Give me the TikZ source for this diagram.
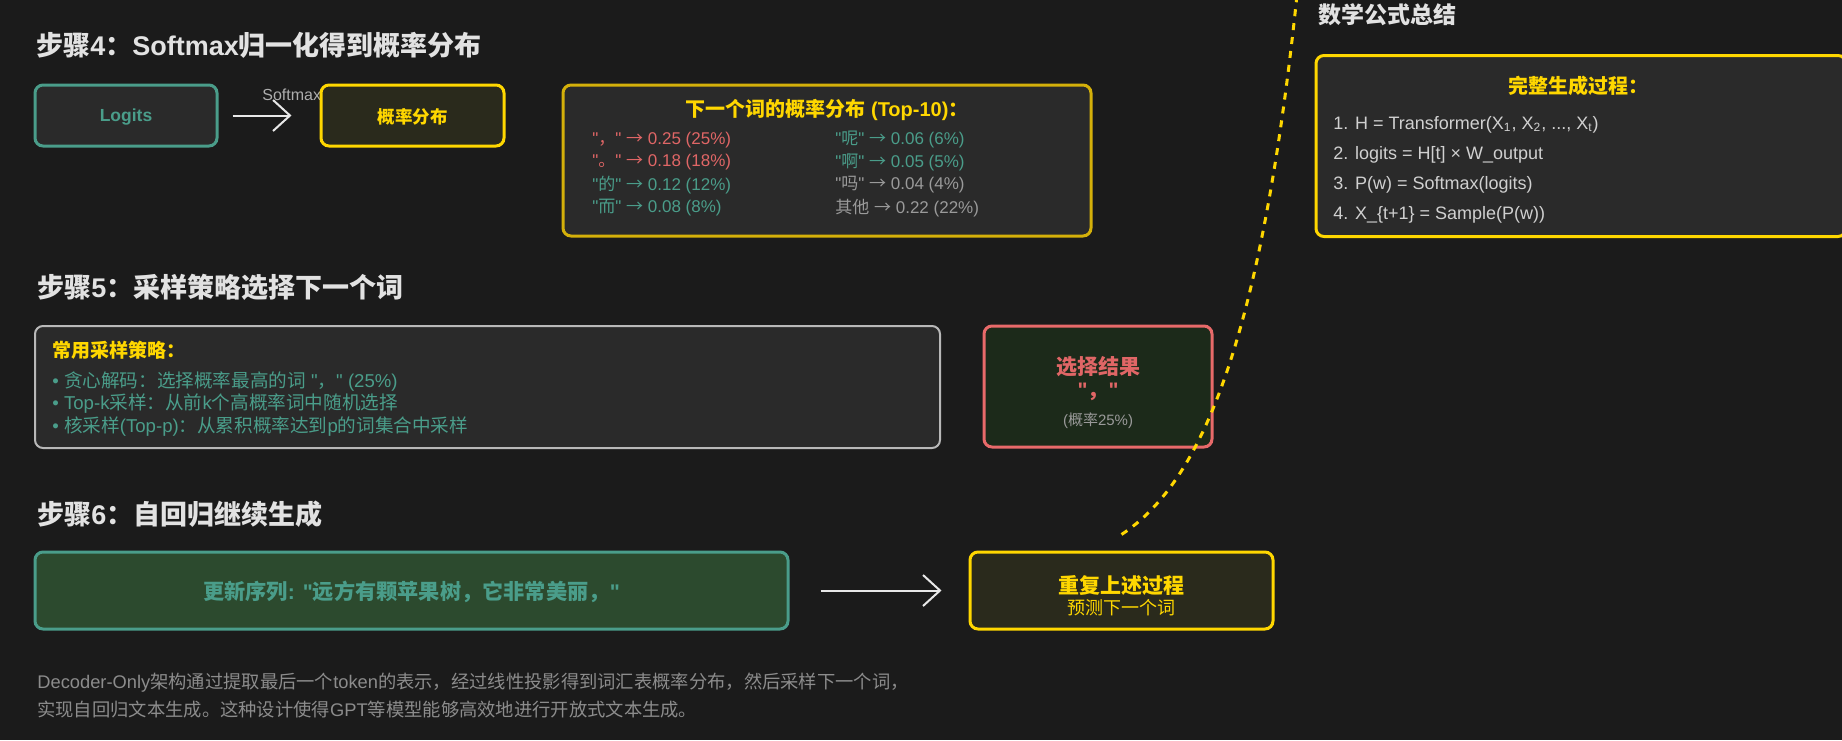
\documentclass[tikz,border=0pt]{standalone}
\usepackage{fontspec}
\setmainfont{Liberation Sans}[Ligatures=TeXOff]
\newfontfamily\cjkfont{Noto Sans CJK SC}
\usetikzlibrary{arrows.meta}

% Chinese characters (and arrows) switch to the CJK font on their own
\XeTeXinterchartokenstate=1
\newXeTeXintercharclass\cjkclass
\newcount\cjkcode
\cjkcode="2190
\loop
    \XeTeXcharclass\cjkcode=\cjkclass
    \advance\cjkcode by 1
\ifnum\cjkcode<"2200 \repeat
\cjkcode="2E80
\loop
    \XeTeXcharclass\cjkcode=\cjkclass
    \advance\cjkcode by 1
\ifnum\cjkcode<"A000 \repeat
\cjkcode="FF00
\loop
    \XeTeXcharclass\cjkcode=\cjkclass
    \advance\cjkcode by 1
\ifnum\cjkcode<"FFF0 \repeat
\XeTeXinterchartoks 0 \cjkclass = {\cjkfont}
\XeTeXinterchartoks 4095 \cjkclass = {\cjkfont}
\XeTeXinterchartoks \cjkclass 0 = {\rmfamily}
\XeTeXinterchartoks \cjkclass 4095 = {\rmfamily}

\definecolor{pagebg}{HTML}{1B1B1B}
\definecolor{boxbg}{HTML}{2A2A2A}
\definecolor{titlegray}{HTML}{E2E2E2}
\definecolor{tealc}{HTML}{4A9D8A}
\definecolor{goldc}{HTML}{FFD700}
\definecolor{dimgold}{HTML}{D4B00A}
\definecolor{redc}{HTML}{E06666}
\definecolor{redline}{HTML}{E86A6A}
\definecolor{olivebg}{HTML}{2A2A1C}
\definecolor{darkgreenbg}{HTML}{1C2A1A}
\definecolor{greenbg}{HTML}{2C4A2E}
\definecolor{softgray}{HTML}{9A9A9A}
\definecolor{lightgray}{HTML}{D0D0D0}
\definecolor{framegray}{HTML}{B8B8B8}
\definecolor{notegray}{HTML}{8C8C8C}
\definecolor{arrowwhite}{HTML}{E8E8E8}

\tikzset{
    steptitle/.style = {anchor=west, inner sep=0pt, text=titlegray,
        font=\bfseries\fontsize{13.5}{16}\selectfont},
    card/.style = {draw, rounded corners=4pt, line width=1.5pt, inner sep=0pt, text depth=0pt},
    cardtext/.style = {inner sep=0pt, text depth=0pt, font=\bfseries\fontsize{8.75}{10}\selectfont},
    rowtext/.style = {anchor=west, inner sep=0pt, font=\fontsize{8.5}{10}\selectfont},
    flowarrow/.style = {draw=arrowwhite, line width=1pt,
        -{Straight Barb[length=8.5pt, width=15.5pt, line width=1pt]}},
    loopline/.style = {draw=goldc, line width=1.5pt, dash pattern=on 3.5pt off 3.5pt},
}

\begin{document}
\begin{tikzpicture}[x=0.5pt, y=-0.5pt]

    % Page area and background
    \useasboundingbox (0,0) rectangle (1842,740);
    \clip (0,0) rectangle (1842,740);
    \fill[pagebg] (0,0) rectangle (1842,740);

    % Step 4: logits to probabilities
    \node[steptitle] (title4) at (36,45) {步骤4：Softmax归一化得到概率分布};
    \node[card, draw=tealc, fill=boxbg, minimum width=91pt, minimum height=30.5pt,
        text=tealc, font=\bfseries\fontsize{8.75}{10}\selectfont] (logits) at (126,115.5) {Logits};
    \node[anchor=base west, inner sep=0pt, text=softgray!80!white,
        font=\fontsize{8}{10}\selectfont] (smlabel) at (262,100) {Softmax};
    \node[card, draw=goldc, fill=olivebg, minimum width=91.5pt, minimum height=30.5pt,
        text=goldc, font=\bfseries\fontsize{8.75}{10}\selectfont] (probdist) at (412.5,115.5) {概率分布};
    \draw[flowarrow, shorten <=7pt, shorten >=14pt] (logits) -- (probdist);

    % Top-10 table
    \node[card, draw=dimgold, fill=boxbg, minimum width=264pt, minimum height=75.5pt] (probtable) at (827,160.5) {};
    \node[cardtext, text=goldc, font=\bfseries\fontsize{10}{12}\selectfont] (probhead) at (827,108) {下一个词的概率分布 (Top-10)：};
    \node[rowtext, text=redc] (rowa) at (592,140) {"，" → 0.25 (25\%)};
    \node[rowtext, text=redc] (rowb) at (592,162) {"。" → 0.18 (18\%)};
    \node[rowtext, text=tealc] (rowc) at (592,185) {"的" → 0.12 (12\%)};
    \node[rowtext, text=tealc] (rowd) at (592,208) {"而" → 0.08 (8\%)};
    \node[rowtext, text=tealc] (rowe) at (835,140) {"呢" → 0.06 (6\%)};
    \node[rowtext, text=tealc] (rowf) at (835,162) {"啊" → 0.05 (5\%)};
    \node[rowtext, text=softgray] (rowg) at (835,185) {"吗" → 0.04 (4\%)};
    \node[rowtext, text=softgray] (rowh) at (835,208) {其他 → 0.22 (22\%)};

    % Formula summary
    \node[steptitle, font=\bfseries\fontsize{11.5}{14}\selectfont] (mathtitle) at (1318,15) {数学公式总结};
    \node[card, draw=goldc, fill=boxbg, minimum width=265pt, minimum height=90.5pt] (formulas) at (1581,146) {};
    \node[cardtext, text=goldc, font=\bfseries\fontsize{10}{12}\selectfont] (formhead) at (1578,85) {完整生成过程：};
    \node[rowtext, text=lightgray, font=\fontsize{9}{11}\selectfont] (forma) at (1333,125)
        {1. H = Transformer(X\textsubscript{1}, X\textsubscript{2}, ..., X\textsubscript{t})};
    \node[rowtext, text=lightgray, font=\fontsize{9}{11}\selectfont] (formb) at (1333,155) {2. logits = H[t] × W\_output};
    \node[rowtext, text=lightgray, font=\fontsize{9}{11}\selectfont] (formc) at (1333,185) {3. P(w) = Softmax(logits)};
    \node[rowtext, text=lightgray, font=\fontsize{9}{11}\selectfont] (formd) at (1333,215) {4. X\_\{t+1\} = Sample(P(w))};

    % Step 5: sampling
    \node[steptitle] (title5) at (37,287) {步骤5：采样策略选择下一个词};
    \node[card, draw=framegray, line width=1pt, fill=boxbg, minimum width=452.5pt, minimum height=61pt] (sampling) at (487.5,387) {};
    \node[rowtext, text=goldc, font=\bfseries\fontsize{9.5}{11}\selectfont] (samplehead) at (52,350) {常用采样策略：};
    \node[rowtext, text=tealc, font=\fontsize{9.3}{11}\selectfont] (greedy) at (52,382) {• 贪心解码：选择概率最高的词 "，" (25\%)};
    \node[rowtext, text=tealc, font=\fontsize{9.3}{11}\selectfont] (topk) at (52,404) {• Top-k采样：从前k个高概率词中随机选择};
    \node[rowtext, text=tealc, font=\fontsize{9.3}{11}\selectfont] (topp) at (52,427) {• 核采样(Top-p)：从累积概率达到p的词集合中采样};

    \node[card, draw=redline, fill=darkgreenbg, minimum width=114pt, minimum height=60.5pt] (result) at (1098,386.5) {};
    \node[cardtext, text=redc, font=\bfseries\fontsize{10.5}{12}\selectfont] (resulthead) at (1098,365) {选择结果};
    \node[cardtext, text=redc, font=\bfseries\fontsize{10.5}{12}\selectfont] (resulttoken) at (1098,390) {"，"};
    \node[cardtext, text=softgray, font=\fontsize{7.5}{9}\selectfont] (resultprob) at (1098,419) {(概率25\%)};

    % Step 6: autoregressive loop
    \node[steptitle] (title6) at (37,514) {步骤6：自回归继续生成};
    \node[card, draw=tealc, fill=greenbg, minimum width=376.5pt, minimum height=38.5pt,
        text=tealc, font=\bfseries\fontsize{10.6}{12}\selectfont] (newseq) at (411.5,590.5) {更新序列: "远方有颗苹果树，它非常美丽，"};
    \node[card, draw=goldc, fill=olivebg, minimum width=151.5pt, minimum height=38.5pt] (repeatbox) at (1121.5,590.5) {};
    \node[cardtext, text=goldc, font=\bfseries\fontsize{10.5}{12}\selectfont] (repeathead) at (1121,584) {重复上述过程};
    \node[cardtext, text=goldc, font=\fontsize{9}{11}\selectfont] (repeatsub) at (1121,607) {预测下一个词};
    \draw[flowarrow, shorten <=15.5pt, shorten >=13.5pt] (newseq) -- (repeatbox);

    % Closing note
    \node[rowtext, text=notegray, font=\fontsize{9.15}{11}\selectfont] (notea) at (37,683)
        {Decoder-Only架构通过提取最后一个token的表示，经过线性投影得到词汇表概率分布，然后采样下一个词，};
    \node[rowtext, text=notegray, font=\fontsize{9.15}{11}\selectfont] (noteb) at (37,710)
        {实现自回归文本生成。这种设计使得GPT等模型能够高效地进行开放式文本生成。};

    % Dashed return line
    \coordinate (loopend) at (1297,-5);
    \draw[loopline] ([yshift=8pt]repeatbox.north) .. controls (1205,480) and (1262,330) .. (loopend);

\end{tikzpicture}
\end{document}
